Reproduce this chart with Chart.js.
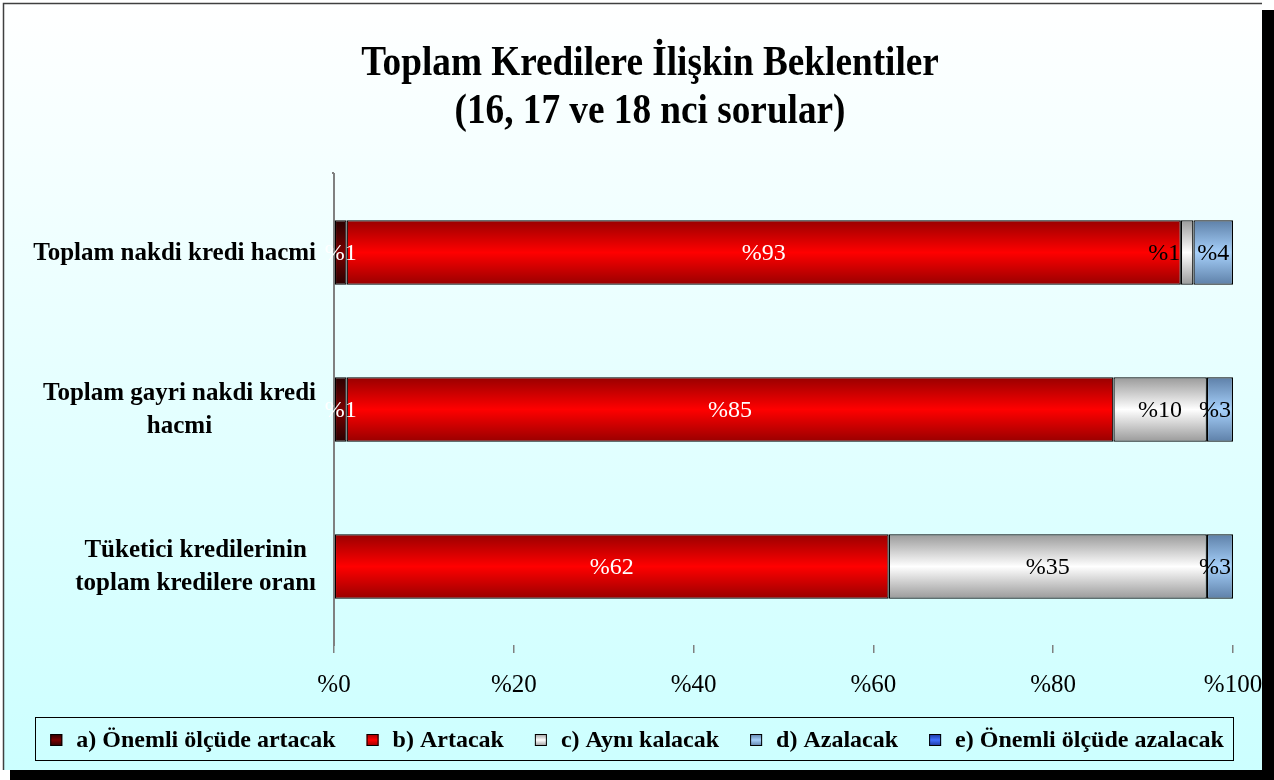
<!DOCTYPE html>
<html><head><meta charset="utf-8">
<script src="https://cdn.jsdelivr.net/npm/chart.js@4.4.1/dist/chart.umd.min.js"></script>
<style>html,body{margin:0;padding:0;background:#fff;} canvas{display:block;}</style>
</head><body>
<canvas id="c" width="1274" height="780"></canvas>
<script>
// ---- data ----
const categories = [
  ["Toplam nakdi kredi hacmi"],
  ["Toplam gayri nakdi kredi", "hacmi"],
  ["Tüketici kredilerinin", "toplam kredilere oranı"]
];
const seriesNames = ["a) Önemli ölçüde artacak", "b) Artacak", "c) Aynı kalacak", "d) Azalacak", "e) Önemli ölçüde azalacak"];
const seriesA = [1.4, 1.4, 0];
const seriesB = [92.8, 85.3, 61.7];
const seriesC = [1.4, 10.4, 35.4];
const seriesD = [4.4, 2.9, 2.9];
const seriesE = [0, 0, 0];
const xTickValues = [0, 20, 40, 60, 80, 100];
const titleLines = ["Toplam Kredilere İlişkin Beklentiler", "(16, 17 ve 18 nci sorular)"];

// ---- styles ----
const gradStops = [
  ['#2a0000', '#7a0000', '#2a0000'],
  ['#990000', '#ff0000', '#990000'],
  ['#9a9a9a', '#ffffff', '#9a9a9a'],
  ['#5e80a8', '#a6d0fa', '#5e80a8'],
  ['#1a3399', '#4070ff', '#1a3399']
];
const labelColors = ['#ffffff', '#ffffff', '#000000', '#000000', '#000000'];
const BAR_PCT = 0.41;
const SERIF = "'Liberation Serif', 'Times New Roman', serif";

function makeGrad(ctx, y0, y1, stops) {
  const g = ctx.createLinearGradient(0, y0, 0, y1);
  g.addColorStop(0, stops[0]); g.addColorStop(0.5, stops[1]); g.addColorStop(1, stops[2]);
  return g;
}

const allSeries = [seriesA, seriesB, seriesC, seriesD, seriesE];
const datasets = allSeries.map((vals, k) => ({
  label: seriesNames[k],
  data: vals,
  backgroundColor: (c) => {
    const chart = c.chart;
    if (!chart.chartArea || c.type !== 'data') return gradStops[k][1];
    const ys = chart.scales.y;
    const center = ys.getPixelForValue(c.dataIndex);
    const step = Math.abs(ys.getPixelForValue(1) - ys.getPixelForValue(0));
    const half = step * BAR_PCT / 2;
    return makeGrad(chart.ctx, center - half, center + half, gradStops[k]);
  },
  borderColor: '#000000',
  borderWidth: (c) => (c.raw ? 1.3 : 0),
  borderSkipped: false,
  barPercentage: BAR_PCT,
  categoryPercentage: 1
}));

const bgPlugin = {
  id: 'bg',
  beforeDraw(chart) {
    const ctx = chart.ctx, W = chart.width, H = chart.height;
    ctx.save();
    ctx.fillStyle = '#ffffff'; ctx.fillRect(0, 0, W, H);
    ctx.fillStyle = '#000000'; ctx.fillRect(10, 10, W - 10, H - 10);
    const g = ctx.createLinearGradient(0, 3, 0, 770);
    g.addColorStop(0, '#ffffff'); g.addColorStop(1, '#ccffff');
    ctx.fillStyle = g; ctx.fillRect(3, 3, 1259, 767);
    ctx.strokeStyle = '#404040'; ctx.lineWidth = 1.5;
    ctx.beginPath(); ctx.moveTo(3.5, 770); ctx.lineTo(3.5, 3.5); ctx.lineTo(1262, 3.5); ctx.stroke();
    // title
    ctx.fillStyle = '#000';
    ctx.font = 'bold 38px ' + SERIF;
    ctx.textAlign = 'center';
    ctx.textBaseline = 'alphabetic';
    const baselines = [75, 123];
    titleLines.forEach((t, i) => {
      ctx.save();
      ctx.translate(650, baselines[i]);
      ctx.scale(0.98, 1.1);
      ctx.fillText(t, 0, 0);
      ctx.restore();
    });
    ctx.restore();
  }
};

const labelPlugin = {
  id: 'valLabels',
  afterDatasetsDraw(chart) {
    const ctx = chart.ctx;
    const area = chart.chartArea;
    ctx.save();
    ctx.font = '24px ' + SERIF;
    ctx.textBaseline = 'middle';
    ctx.textAlign = 'left';
    categories.forEach((cat, i) => {
      const items = [];
      chart.data.datasets.forEach((ds, k) => {
        const v = ds.data[i];
        if (!v) return;
        const el = chart.getDatasetMeta(k).data[i];
        const text = '%' + Math.round(v);
        const w = ctx.measureText(text).width;
        const cx = (el.x + el.base) / 2;
        items.push({ text, w, left: cx - w / 2, y: el.y, color: labelColors[k] });
      });
      let limit = area.right - 2;
      for (let j = items.length - 1; j >= 0; j--) {
        const it = items[j];
        if (it.left + it.w > limit) it.left = limit - it.w;
        limit = it.left - 17;
      }
      items.forEach(it => { ctx.fillStyle = it.color; ctx.fillText(it.text, it.left, it.y + 1); });
    });
    ctx.restore();
  },
  afterDraw(chart) {
    const ctx = chart.ctx;
    const ys = chart.scales.y;
    ctx.save();
    // extend axis line slightly to the top like the original
    ctx.strokeStyle = '#808080'; ctx.lineWidth = 2;
    ctx.beginPath(); ctx.moveTo(ys.right - 1, chart.chartArea.top); ctx.lineTo(ys.right - 1, chart.chartArea.top - 2); ctx.stroke();
    // category labels
    ctx.font = 'bold 25px ' + SERIF;
    ctx.fillStyle = '#000';
    ctx.textAlign = 'center';
    ctx.textBaseline = 'middle';
    const rightEdge = ys.right - 18;
    categories.forEach((lines, i) => {
      const cy = ys.getPixelForValue(i);
      const maxW = Math.max(...lines.map(l => ctx.measureText(l).width));
      const cx = rightEdge - maxW / 2;
      const lh = 33;
      lines.forEach((l, n) => {
        ctx.fillText(l, cx, cy + (n - (lines.length - 1) / 2) * lh + 1);
      });
    });
    // legend
    ctx.font = 'bold 24px ' + SERIF;
    ctx.textAlign = 'left';
    const box = 12, gapBT = 14, gapItem = 31;
    const widths = seriesNames.map(n => box + gapBT + ctx.measureText(n).width);
    const total = widths.reduce((a, b) => a + b, 0) + gapItem * (seriesNames.length - 1);
    let x = 637 - total / 2;
    const ly = 740;
    ctx.strokeStyle = '#000'; ctx.lineWidth = 1;
    ctx.strokeRect(Math.round(x - 15) + 0.5, 717.5, Math.round(total + 25), 43);
    seriesNames.forEach((n, k) => {
      ctx.fillStyle = makeGrad(ctx, ly - box / 2, ly + box / 2, gradStops[k]);
      ctx.fillRect(x, ly - box / 2, box, box);
      ctx.strokeStyle = '#000'; ctx.lineWidth = 1;
      ctx.strokeRect(x + 0.5, ly - box / 2 + 0.5, box - 1, box - 1);
      ctx.fillStyle = '#000';
      ctx.fillText(n, x + box + gapBT, ly + 1);
      x += widths[k] + gapItem;
    });
    ctx.restore();
  }
};

new Chart(document.getElementById('c'), {
  type: 'bar',
  data: { labels: categories, datasets },
  options: {
    indexAxis: 'y',
    responsive: false,
    devicePixelRatio: 1,
    animation: false,
    layout: { padding: { left: 10, right: 41, top: 174, bottom: 20 } },
    scales: {
      x: {
        stacked: true, min: 0, max: 100,
        afterBuildTicks: (s) => { s.ticks = xTickValues.map(v => ({ value: v })); },
        afterFit: (s) => { s.height = 115; s.paddingLeft = 0; s.paddingRight = 0; },
        ticks: { callback: (v) => '%' + v, color: '#000', font: { family: SERIF, size: 25 }, padding: 17, maxRotation: 0 },
        grid: { drawOnChartArea: false, drawTicks: true, tickLength: 8, color: '#808080', lineWidth: 1.5 },
        border: { display: false }
      },
      y: {
        stacked: true,
        afterFit: (s) => { s.width = 324; s.paddingTop = 0; s.paddingBottom = 0; },
        ticks: { display: false },
        grid: { display: true, drawOnChartArea: false, drawTicks: false },
        border: { display: true, color: '#808080', width: 2 }
      }
    },
    plugins: {
      legend: { display: false },
      tooltip: { enabled: false },
      title: { display: false }
    }
  },
  plugins: [bgPlugin, labelPlugin]
});
</script>
</body></html>
